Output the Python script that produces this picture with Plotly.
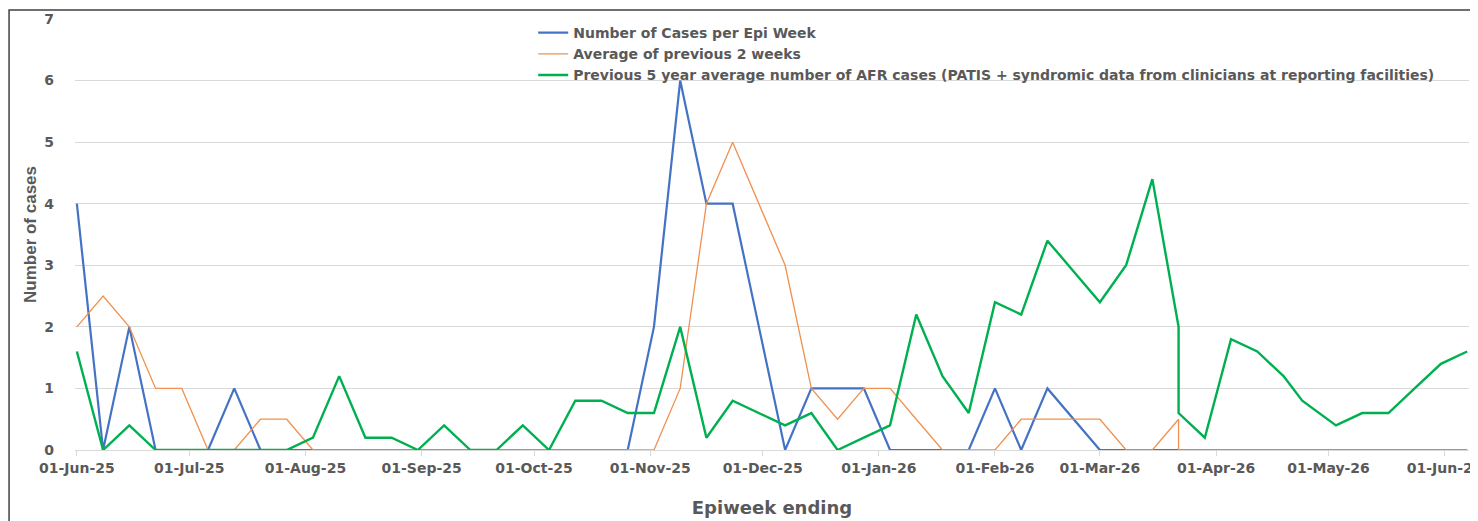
import plotly.graph_objects as go

# ---- data ----
epiweek_ending = [
    "2025-06-01", "2025-06-08", "2025-06-15", "2025-06-22", "2025-06-29",
    "2025-07-06", "2025-07-13", "2025-07-20", "2025-07-27",
    "2025-08-03", "2025-08-10", "2025-08-17", "2025-08-24", "2025-08-31",
    "2025-09-07", "2025-09-14", "2025-09-21", "2025-09-28",
    "2025-10-05", "2025-10-12", "2025-10-19", "2025-10-26",
    "2025-11-02", "2025-11-09", "2025-11-16", "2025-11-23", "2025-11-30",
    "2025-12-07", "2025-12-14", "2025-12-21", "2025-12-28",
    "2026-01-04", "2026-01-11", "2026-01-18", "2026-01-25",
    "2026-02-01", "2026-02-08", "2026-02-15", "2026-02-22",
    "2026-03-01", "2026-03-08", "2026-03-15", "2026-03-22", "2026-03-22",
    "2026-03-29", "2026-04-05", "2026-04-12", "2026-04-19", "2026-04-24",
    "2026-05-03", "2026-05-10", "2026-05-17", "2026-05-24", "2026-05-31",
    "2026-06-07",
]

cases_per_week = [
    4, 0, 2, 0, 0, 0, 1, 0, 0,
    0, 0, 0, 0, 0,
    0, 0, 0, 0,
    0, 0, 0, 0,
    2, 6, 4, 4, 2,
    0, 1, 1, 1,
    0, 0, 0, 0,
    1, 0, 1, None,
    0, 0, 0, 0, 0,
    0, 0, 0, 0, 0,
    0, 0, 0, 0, 0,
    0,
]

avg_prev_2_weeks = [
    2, 2.5, 2, 1, 1, 0, 0, 0.5, 0.5,
    0, 0, 0, 0, 0,
    0, 0, 0, 0,
    0, 0, 0, 0,
    0, 1, 4, 5, 4,
    3, 1, 0.5, 1,
    1, 0.5, 0, 0,
    0, 0.5, 0.5, 0.5,
    0.5, 0, 0, 0.5, 0,
    0, 0, 0, 0, 0,
    0, 0, 0, 0, 0,
    0,
]

prev_5yr_avg = [
    1.6, 0, 0.4, 0, 0, 0, 0, 0, 0,
    0.2, 1.2, 0.2, 0.2, 0,
    0.4, 0, 0, 0.4,
    0, 0.8, 0.8, 0.6,
    0.6, 2, 0.2, 0.8, 0.6,
    0.4, 0.6, 0, 0.2,
    0.4, 2.2, 1.2, 0.6,
    2.4, 2.2, 3.4, 2.9,
    2.4, 3.0, 4.4, 2.0, 0.6,
    0.2, 1.8, 1.6, 1.2, 0.8,
    0.4, 0.6, 0.6, 1.0, 1.4,
    1.6,
]

series_names = [
    "Number of Cases per Epi Week",
    "Average of previous 2 weeks",
    "Previous 5 year average number of AFR cases (PATIS + syndromic data from clinicians at reporting facilities)",
]

TEXT = "#595959"
GRID = "#d9d9d9"

fig = go.Figure()
fig.add_trace(go.Scatter(x=epiweek_ending, y=cases_per_week, mode="lines",
                         name=series_names[0], connectgaps=True,
                         line=dict(color="#4472C4", width=2.2)))
fig.add_trace(go.Scatter(x=epiweek_ending, y=avg_prev_2_weeks, mode="lines",
                         name=series_names[1],
                         line=dict(color="#F0914F", width=1.3)))
fig.add_trace(go.Scatter(x=epiweek_ending, y=prev_5yr_avg, mode="lines",
                         name=series_names[2],
                         line=dict(color="#00B050", width=2.4)))

# the page body has an 8px margin, so the figure is sized/offset to compensate
fig.update_layout(
    width=1470, height=513,
    margin=dict(l=67, r=9, t=11, b=71, pad=0, autoexpand=False),
    paper_bgcolor="white", plot_bgcolor="white",
    font=dict(family="DejaVu Sans", color=TEXT),
    showlegend=True,
    legend=dict(
        x=0.3287, y=1.0046, xanchor="left", yanchor="top",
        bgcolor="rgba(0,0,0,0)", itemwidth=30,
        font=dict(family="DejaVu Sans", size=14, weight="bold", color=TEXT),
        tracegroupgap=0,
    ),
    xaxis=dict(
        type="date",
        range=["2025-05-31 12:00", "2026-06-07 12:00"],
        tick0="2025-06-01", dtick="M1", tickformat="%d-%b-%y",
        showgrid=False, zeroline=False,
        showline=True, linecolor=GRID, linewidth=1,
        ticks="outside", ticklen=5, tickcolor=GRID,
        ticklabeloverflow="allow", automargin=False,
        tickfont=dict(family="DejaVu Sans", size=14, weight="bold", color=TEXT),
        title=dict(text="Epiweek ending", standoff=26,
                   font=dict(family="DejaVu Sans", size=18, weight="bold", color=TEXT)),
    ),
    yaxis=dict(
        range=[0, 7], dtick=1, tick0=0,
        showgrid=True, gridcolor=GRID, gridwidth=1,
        zeroline=False, showline=False, ticks="",
        ticklabelstandoff=20, automargin=False,
        tickfont=dict(family="DejaVu Sans", size=14, weight="bold", color=TEXT),
        title=dict(text="Number of cases", standoff=3,
                   font=dict(family="Liberation Sans", size=17, weight="bold", color=TEXT)),
    ),
    shapes=[
        dict(type="rect", xref="paper", yref="paper",
             x0=-0.0473, x1=1.01, y0=-0.2, y1=1.0209,
             line=dict(color="#404040", width=1.5), fillcolor="rgba(0,0,0,0)",
             layer="above"),
    ],
)

fig.write_html("out.html")
